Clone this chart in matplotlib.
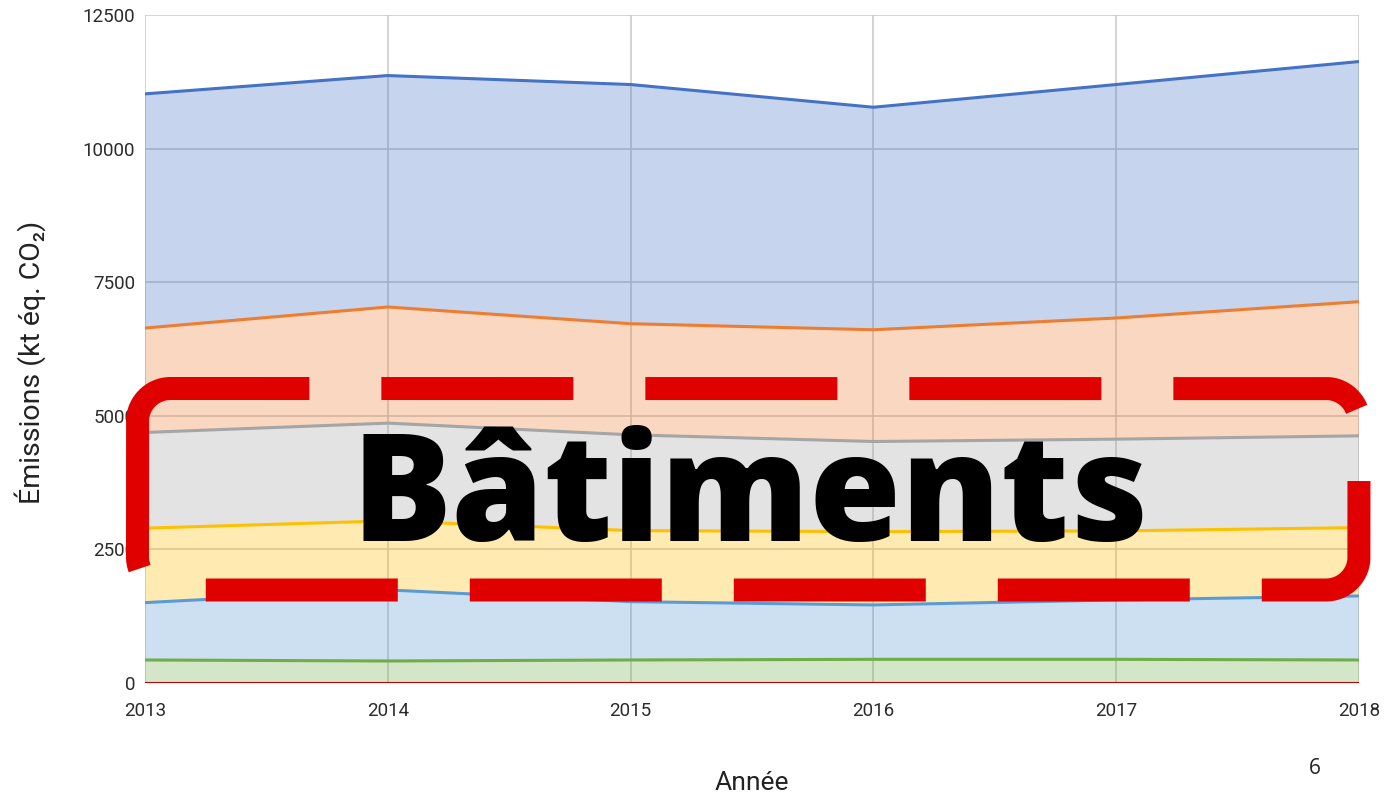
import numpy as np
import matplotlib
matplotlib.use("Agg")
import matplotlib.pyplot as plt

plt.rcParams['lines.scale_dashes'] = False

# data (kt éq. CO2), stacked bottom -> top
years = [2013, 2014, 2015, 2016, 2017, 2018]
serie_rouge = [8, 8, 8, 8, 8, 8]
serie_verte = [423, 404, 423, 435, 435, 423]
serie_bleu_clair = [1073, 1330, 1091, 1018, 1111, 1198]
serie_jaune = [1393, 1292, 1330, 1372, 1292, 1279]
serie_grise = [1791, 1829, 1792, 1686, 1717, 1717]
serie_orange = [1954, 2173, 2079, 2091, 2267, 2510]
serie_bleue = [4382, 4331, 4476, 4164, 4369, 4494]
y_ticks = [0, 2500, 5000, 7500, 10000, 12500]

series = [serie_rouge, serie_verte, serie_bleu_clair, serie_jaune,
          serie_grise, serie_orange, serie_bleue]
colors = ['#c00000', '#70ad47', '#5b9bd5', '#ffc000',
          '#a5a5a5', '#ed7d31', '#4472c4']

W, H = 1394, 796
fig = plt.figure(figsize=(W / 100, H / 100), dpi=100)
ax = fig.add_axes([145 / W, (H - 683) / H, (1359 - 145) / W, (683 - 15) / H])

ax.stackplot(years, *series, colors=colors, alpha=0.3, lw=0, zorder=2)
cum = np.cumsum(np.array(series), axis=0)
for c, col in zip(cum, colors):
    ax.plot(years, c, color=col, lw=2.2, zorder=3)

ax.set_xlim(years[0], years[-1])
ax.set_ylim(0, 12500)
ax.set_xticks(years)
ax.set_yticks(y_ticks)
ax.grid(True, color='#cccccc', lw=1.2, zorder=0)
ax.set_axisbelow(True)
for s in ax.spines.values():
    s.set_visible(False)
ax.tick_params(length=0, labelsize=13.5, labelcolor='#2b2b2b', labelfontfamily='Roboto')
ax.tick_params(axis='y', pad=7)
ax.tick_params(axis='x', pad=14)

fig.text(30 / W, 1 - 362 / H, 'Émissions (kt éq. CO₂)', rotation=90,
         ha='center', va='center', fontsize=20.5, color='#222222',
         family=['Roboto', 'DejaVu Sans'])
fig.text(752 / W, 1 - 783 / H, 'Année', ha='center', va='center',
         fontsize=19, color='#222222', family='Roboto')

# overlay in pixel coordinates
ov = fig.add_axes([0, 0, 1, 1], zorder=10)
ov.set_xlim(0, W)
ov.set_ylim(H, 0)
ov.axis('off')
ov.patch.set_alpha(0)

x0, x1, y0, y1, r = 137.5, 1359, 388.5, 590, 33


def arc(cx, cy, a0, a1):
    a = np.radians(np.linspace(a0, a1, 40))
    return cx + r * np.cos(a), cy + r * np.sin(a)


pts = [arc(x0 + r, y1 - r, 90, 180), arc(x0 + r, y0 + r, 180, 270),
       arc(x1 - r, y0 + r, 270, 360), arc(x1 - r, y1 - r, 0, 90)]
px = np.concatenate([p[0] for p in pts] + [[x0 + r]])
py = np.concatenate([p[1] for p in pts] + [[y1]])

k = 0.72  # px -> pt
seq = [338, 72] + [192, 72] * 9
total = sum(seq)
frame, = ov.plot(px, py, color='#e00000', lw=23 * k,
                 dash_capstyle='butt', dash_joinstyle='round')
frame.set_linestyle(((total - 40) * k, [v * k for v in seq]))

ov.text(750, 541, 'Bâtiments', ha='center', va='baseline', fontsize=107,
        fontweight='heavy', family='Open Sans', color='black')
ov.text(1315, 768, '6', ha='center', va='center', fontsize=15,
        family='Open Sans', color='#222222')

fig.savefig('out.png', dpi=100)
